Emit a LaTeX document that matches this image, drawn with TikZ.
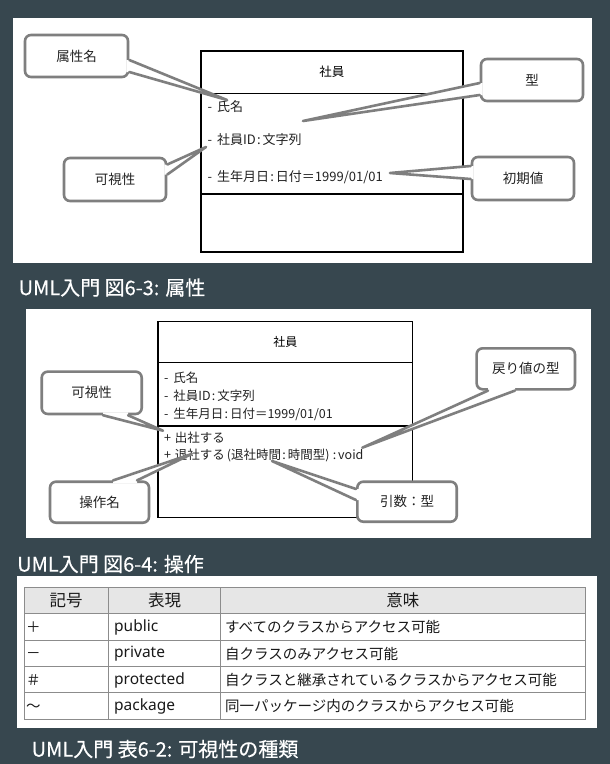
\documentclass[tikz,border=0pt]{standalone}
\usepackage{fontspec}
\setmainfont{Noto Sans CJK JP}
\newfontfamily\latf{Noto Sans}
\newfontfamily\capf[FakeBold=0.35]{Noto Sans CJK JP}
\usetikzlibrary{calc}
\definecolor{bgc}{HTML}{37474F}
\definecolor{cgray}{HTML}{7F7F7F}
\definecolor{tline}{HTML}{8C8C8C}
\definecolor{thead}{HTML}{E6E6E6}
\definecolor{ctext}{HTML}{222222}
\newcommand{\vp}{{\normalfont\vphantom{国}}}
\newcommand{\fs}[1]{\fontsize{#1}{#1}\selectfont}
\newcommand{\cl}{\kern1.2pt:\kern2pt}
\newcommand{\dsh}{-\kern2pt\ }
\newcommand{\pls}{+\kern1pt\ }
% tail of a callout: base1, tip, base2, inward offset
\newcommand{\calltail}[4]{%
  \fill[white] (#1) -- (#2) -- (#3) -- ($(#3)+#4$) -- ($(#1)+#4$) -- cycle;
  \draw[tailline] (#1) -- (#2) -- (#3);}
\tikzset{
  panelbg/.style={fill=white},
  comp/.style={draw=black, line width=1.6pt, inner sep=0pt, anchor=north west},
  ctxt/.style={inner sep=0pt, anchor=west, text=ctext},
  callout/.style={draw=cgray, line width=2.6pt, rounded corners=6pt, fill=white,
    inner sep=0pt, font=\fs{13.5}, text=ctext},
  tailline/.style={draw=cgray, line width=2.6pt, line join=round, line cap=round},
  captxt/.style={inner sep=0pt, anchor=west, text=white, font=\capf\fs{20}},
  tabline/.style={draw=tline, line width=1pt},
  hdtxt/.style={inner sep=0pt, font=\fs{16.5}, text=black!90},
  celltxt/.style={inner sep=0pt, anchor=west, font=\fs{14.5}, text=black!90},
  lcelltxt/.style={inner sep=0pt, anchor=west, font=\latf\fs{15.5}, text=black!90}
}
\begin{document}
\begin{tikzpicture}[x=1pt,y=-1pt]
\useasboundingbox (0,0) rectangle (610,764);
\fill[bgc] (0,0) rectangle (610,764);

% ---------------- Panel 1 ----------------
\fill[panelbg] (13,17.5) rectangle (592,262.5);
\node[comp, minimum width=262, minimum height=42.7, font=\fs{12.5}] (k1h) at (200,50) {社員};
\node[comp, minimum width=262, minimum height=100.6] (k1a) at (200,92.7) {};
\node[comp, minimum width=262, minimum height=57.7] (k1o) at (200,193.3) {};
\node[ctxt, font=\fs{13}] (a1) at (207.5,107) {\dsh 氏名\vp};
\node[ctxt, font=\fs{13}] (a2) at (207.5,139.5) {\dsh 社員ID\cl 文字列\vp};
\node[ctxt, font=\fs{13}] (a3) at (207.5,177) {\dsh 生年月日\cl 日付＝1999/01/01\vp};

\node[callout, minimum width=103, minimum height=42] (c1) at (76.5,56) {属性名};
\node[callout, minimum width=102, minimum height=42] (c2) at (532,80) {型};
\node[callout, minimum width=102, minimum height=43] (c3) at (115,179.5) {可視性};
\node[callout, minimum width=102, minimum height=43] (c4) at (523,178.5) {初期値};

\coordinate (t1) at (227,100);
\coordinate (t2) at (303,121);
\coordinate (t3) at (206,147);
\coordinate (t4) at (390,173);
\coordinate (c1a) at ($(c1.east)+(0,4)$);
\coordinate (c1b) at ($(c1.east)+(0,16)$);
\coordinate (c2a) at ($(c2.west)+(0,3)$);
\coordinate (c2b) at ($(c2.west)+(0,15)$);
\coordinate (c3a) at ($(c3.east)+(0,-15)$);
\coordinate (c3b) at ($(c3.east)+(0,-5)$);
\coordinate (c4a) at ($(c4.west)+(0,-12.5)$);
\coordinate (c4b) at ($(c4.west)+(0,0.5)$);
\calltail{c1a}{t1}{c1b}{(-3,0)}
\calltail{c2a}{t2}{c2b}{(3,0)}
\calltail{c3a}{t3}{c3b}{(-3,0)}
\calltail{c4a}{t4}{c4b}{(3,0)}

\node[captxt] (cap1) at (18.5,287.5) {UML入門 図6-3: 属性};

% ---------------- Panel 2 ----------------
\fill[panelbg] (26,309) rectangle (590.7,538.3);
\node[comp, minimum width=254.4, minimum height=41, font=\fs{12}] (k2h) at (157.3,320.7) {社員};
\node[comp, minimum width=254.4, minimum height=63.3] (k2a) at (157.3,361.7) {};
\node[comp, minimum width=254.4, minimum height=91.7] (k2o) at (157.3,425) {};
\node[ctxt, font=\fs{12.5}] (b1) at (164,377.3) {\dsh 氏名\vp};
\node[ctxt, font=\fs{12.5}] (b2) at (164,396) {\dsh 社員ID\cl 文字列\vp};
\node[ctxt, font=\fs{12.5}] (b3) at (164,414) {\dsh 生年月日\cl 日付＝1999/01/01\vp};
\node[ctxt, font=\fs{12.5}] (o1) at (164,437.5) {\pls 出社する\vp};
\node[ctxt, font=\fs{12.5}] (o2) at (164,455.5) {\pls 退社する\kern2pt(退社時間\cl 時間型)\kern2pt\cl void\vp};

\node[callout, minimum width=100, minimum height=42.3] (d1) at (91.7,392.8) {可視性};
\node[callout, minimum width=99, minimum height=41] (d2) at (99.5,502.2) {操作名};
\node[callout, minimum width=99.4, minimum height=40] (d3) at (407,501.7) {引数：型};
\node[callout, minimum width=98.3, minimum height=41] (d4) at (525.8,368.8) {戻り値の型};

\coordinate (u1) at (163,430.7);
\coordinate (u2) at (191.7,454);
\coordinate (u3) at (272,461);
\coordinate (u4) at (362.3,447.7);
\coordinate (d1a) at ($(d1.south)+(11.3,0)$);
\coordinate (d1b) at ($(d1.south)+(36.3,0)$);
\coordinate (d2a) at ($(d2.north)+(13.5,0)$);
\coordinate (d2b) at ($(d2.north)+(37.5,0)$);
\coordinate (d3a) at ($(d3.west)+(0,-12.7)$);
\coordinate (d3b) at ($(d3.west)+(0,-1.7)$);
\coordinate (d4a) at ($(d4.south)+(-37.8,0)$);
\coordinate (d4b) at ($(d4.south)+(-10.8,0)$);
\calltail{d1a}{u1}{d1b}{(0,-3)}
\calltail{d2a}{u2}{d2b}{(0,3)}
\calltail{d3a}{u3}{d3b}{(3,0)}
\calltail{d4a}{u4}{d4b}{(0,-3)}

\node[captxt] (cap2) at (17,564) {UML入門 図6-4: 操作};

% ---------------- Panel 3 (table) ----------------
\fill[panelbg] (17.3,575.7) rectangle (596.7,728.3);
\fill[thead] (24,587.3) rectangle (585,613.3);
\draw[tabline] (24,587.3) rectangle (585,719.3);
\draw[tabline] (24,613.3) -- (585,613.3);
\draw[tabline] (24,640) -- (585,640);
\draw[tabline] (24,666.7) -- (585,666.7);
\draw[tabline] (24,692.7) -- (585,692.7);
\draw[tabline] (108.3,587.3) -- (108.3,719.3);
\draw[tabline] (220.7,587.3) -- (220.7,719.3);

\node[hdtxt] (h1) at (66.2,600.3) {記号};
\node[hdtxt] (h2) at (164.5,600.3) {表現};
\node[hdtxt] (h3) at (402.9,600.3) {意味};

\node[celltxt] (s1) at (26,627) {＋\vp};
\node[celltxt] (s2) at (26,653.5) {－\vp};
\node[celltxt] (s3) at (26,680) {＃\vp};
\node[celltxt] (s4) at (26,706) {～\vp};
\node[lcelltxt] (p1) at (114,627) {public\vp};
\node[lcelltxt] (p2) at (114,653.5) {private\vp};
\node[lcelltxt] (p3) at (114,680) {protected\vp};
\node[lcelltxt] (p4) at (114,706) {package\vp};
\node[celltxt] (m1) at (225,627) {すべてのクラスからアクセス可能\vp};
\node[celltxt] (m2) at (225,653.5) {自クラスのみアクセス可能\vp};
\node[celltxt] (m3) at (225,680) {自クラスと継承されているクラスからアクセス可能\vp};
\node[celltxt] (m4) at (225,706) {同一パッケージ内のクラスからアクセス可能\vp};

\node[captxt] (cap3) at (31.5,749) {UML入門 表6-2: 可視性の種類};
\end{tikzpicture}
\end{document}
